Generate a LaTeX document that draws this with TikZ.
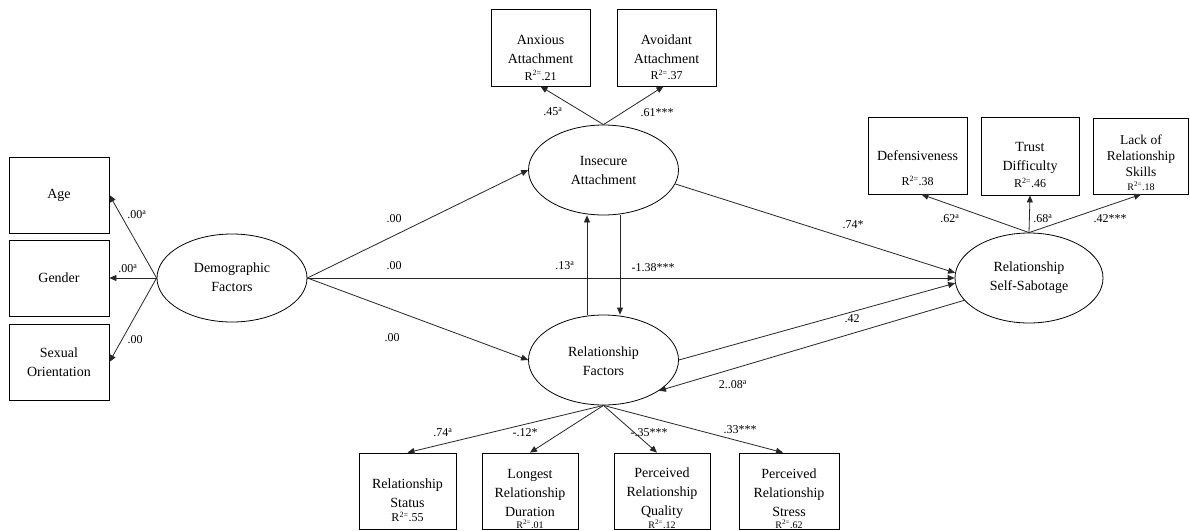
\documentclass[tikz,border=0pt]{standalone}
\usepackage{fontspec}
\setmainfont{Liberation Serif}
\usetikzlibrary{arrows.meta,shapes.geometric}
\begin{document}
\begin{tikzpicture}[x=1pt,y=-1pt,
  box/.style={draw, line width=0.8pt, minimum width=99pt, minimum height=77pt, inner sep=0pt},
  lv/.style={draw, ellipse, line width=0.8pt, minimum width=150pt, minimum height=90pt, inner sep=0pt},
  txt/.style={font=\fontsize{14}{19}\selectfont, align=center, inner sep=0pt},
  rsq/.style={font=\fontsize{12}{14}\selectfont, inner sep=0pt},
  rsqs/.style={font=\fontsize{10}{12}\selectfont, inner sep=0pt},
  lab/.style={font=\fontsize{12}{14}\selectfont, inner sep=0pt},
  arr/.style={-{Triangle[length=7pt,width=6pt]}, line width=0.8pt, draw=black!85}
]
\useasboundingbox[fill=white] (0,0) rectangle (1190,530);

% ---- demographic block
\node[box, minimum width=100pt, minimum height=76pt] (age) at (59,195) {};
\node[box, minimum width=100pt, minimum height=76pt] (gender) at (59,278) {};
\node[box, minimum width=100pt, minimum height=76pt] (sexor) at (59,362) {};
\node[txt] (age-t) at (59,195) {Age};
\node[txt] (gender-t) at (59,278) {Gender};
\node[txt] (sexor-t) at (59,362.5) {Sexual\\Orientation};
\node[lv, minimum height=88pt] (demo) at (232,278) {};
\node[txt] (demo-t) at (232,277) {Demographic\\Factors};

% ---- insecure attachment block
\node[box] (anx) at (540.5,47.5) {};
\node[box] (avo) at (666.5,47.5) {};
\node[txt] (anx-t) at (540.5,49) {Anxious\\Attachment};
\node[rsq] (anx-r) at (540.5,75.5) {R\textsuperscript{2=}.21};
\node[txt] (avo-t) at (666.5,49.5) {Avoidant\\Attachment};
\node[rsq] (avo-r) at (666.5,75) {R\textsuperscript{2=}.37};
\node[lv] (ins) at (603.5,170) {};
\node[txt] (ins-t) at (603.5,170) {Insecure\\Attachment};

% ---- self-sabotage block
\node[box] (def) at (917.5,155.5) {};
\node[box, minimum width=98pt, minimum height=78pt] (tru) at (1030,156) {};
\node[box, minimum width=95pt, minimum height=76pt] (lack) at (1141,156) {};
\node[txt] (def-t) at (917.5,156) {Defensiveness};
\node[rsq] (def-r) at (917.5,181) {R\textsuperscript{2=}.38};
\node[txt] (tru-t) at (1030,157.5) {Trust\\Difficulty};
\node[rsq] (tru-r) at (1030,183) {R\textsuperscript{2=}.46};
\node[txt, font=\fontsize{13.5}{16}\selectfont] (lack-t) at (1141,156) {Lack of\\Relationship\\Skills};
\node[rsqs] (lack-r) at (1141,186) {R\textsuperscript{2=}.18};
\node[lv, minimum width=148pt] (rss) at (1029,278) {};
\node[txt] (rss-t) at (1029,278) {Relationship\\Self-Sabotage};

% ---- relationship factors block
\node[lv] (rf) at (603.5,360) {};
\node[txt] (rf-t) at (603.5,361) {Relationship\\Factors};
\node[box, minimum width=97pt, minimum height=76pt] (sta) at (407.5,491) {};
\node[box, minimum width=96pt, minimum height=76pt] (lon) at (530,491) {};
\node[box, minimum width=96pt, minimum height=76pt] (qua) at (662,491) {};
\node[box, minimum width=100pt, minimum height=76pt] (str) at (789,491) {};
\node[txt] (sta-t) at (407.5,493.5) {Relationship\\Status};
\node[rsq] (sta-r) at (407.5,517) {R\textsuperscript{2=}.55};
\node[txt] (lon-t) at (530,493) {Longest\\Relationship\\Duration};
\node[rsqs] (lon-r) at (530,524) {R\textsuperscript{2=}.01};
\node[txt] (qua-t) at (662,493) {Perceived\\Relationship\\Quality};
\node[rsqs] (qua-r) at (662,524) {R\textsuperscript{2=}.12};
\node[txt] (str-t) at (789,493) {Perceived\\Relationship\\Stress};
\node[rsqs] (str-r) at (789,524) {R\textsuperscript{2=}.62};

% ---- connectors
\draw[arr] (demo.west) -- (age.east);
\draw[arr] (demo.west) -- (gender.east);
\draw[arr] (demo.west) -- (sexor.east);
\draw[arr] (demo.east) -- (ins.west);
\draw[arr] (demo.east) -- (rss.west);
\draw[arr] (demo.east) -- (rf.west);
\draw[arr] (ins.north) -- (anx.south);
\draw[arr] (ins.north) -- ([xshift=-3pt]avo.south);
\draw[arr] ([xshift=-16.5pt]rf.north) -- ([xshift=-16.5pt]ins.south);
\draw[arr] ([xshift=16.5pt]ins.south) -- ([xshift=16.5pt]rf.north);
\draw[arr] (ins.-11) -- (rss.176);
\draw[arr] (rf.east) -- (rss.184);
\draw[arr] (rss.199) -- (rf.-29.5);
\draw[arr] (rss.north) -- ([xshift=4pt]def.south);
\draw[arr] (rss.north) -- (tru.south);
\draw[arr] (rss.north) -- (lack.south);
\draw[arr] (rf.south) -- (sta.north);
\draw[arr] (rf.south) -- (lon.north);
\draw[arr] (rf.south) -- ([xshift=-5pt]qua.north);
\draw[arr] (rf.south) -- ([xshift=-6pt]str.north);

% ---- path coefficients
\node[lab] (l-age) at (137,215) {.00\textsuperscript{a}};
\node[lab] (l-gen) at (128,269) {.00\textsuperscript{a}};
\node[lab] (l-sex) at (135,340) {.00};
\node[lab] (l-di) at (394,219) {.00};
\node[lab] (l-dr) at (394,266) {.00};
\node[lab] (l-df) at (392,338) {.00};
\node[lab] (l-up) at (565,266) {.13\textsuperscript{a}};
\node[lab] (l-dn) at (653,268) {-1.38***};
\node[lab] (l-anx) at (553,112) {.45\textsuperscript{a}};
\node[lab] (l-avo) at (657,113) {.61***};
\node[lab] (l-ir) at (853,225) {.74*};
\node[lab] (l-def) at (950,219) {.62\textsuperscript{a}};
\node[lab] (l-tru) at (1043,219) {.68\textsuperscript{a}};
\node[lab] (l-lack) at (1110,219) {.42***};
\node[lab] (l-fr) at (852,319) {.42};
\node[lab] (l-rf) at (733,385) {2..08\textsuperscript{a}};
\node[lab] (l-sta) at (443,433) {.74\textsuperscript{a}};
\node[lab] (l-lon) at (525,433) {-.12*};
\node[lab] (l-qua) at (649,433) {-.35***};
\node[lab] (l-str) at (740,430) {.33***};
\end{tikzpicture}
\end{document}
